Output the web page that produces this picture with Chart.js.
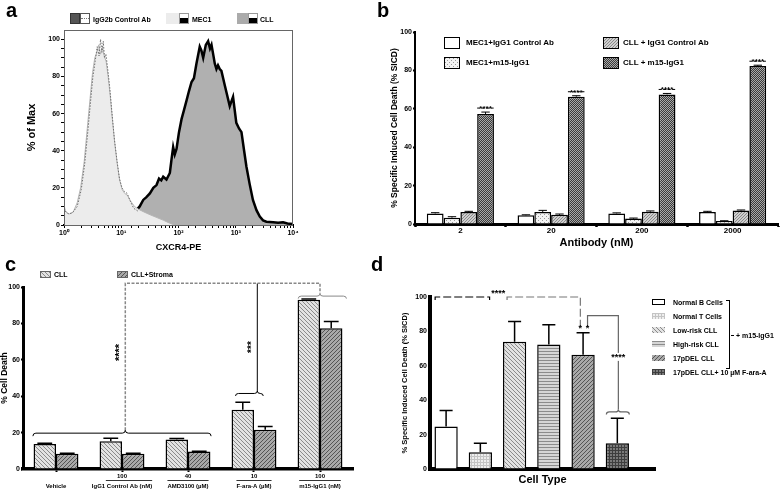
<!DOCTYPE html>
<html>
<head>
<meta charset="utf-8">
<title>m15-IgG1 CXCR4 figure</title>
<script src="https://cdn.jsdelivr.net/npm/chart.js@4.4.1/dist/chart.umd.min.js"></script>
<style>
  body { margin: 0; background: #fff; }
  #fig { position: relative; width: 780px; height: 489px; overflow: hidden; background: #fff;
         font-family: "Liberation Sans", Arial, sans-serif; font-weight: bold; color: #000; }
  #fig canvas { position: absolute; }
  .t { position: absolute; white-space: nowrap; line-height: 1; transform: translateY(-50%); }
  .letter { position: absolute; font-size: 20px; line-height: 1; }
  .sw { position: absolute; box-sizing: border-box; }
</style>
</head>
<body>
<div id="fig">
  <canvas id="chartA" width="300" height="260" style="left:0;top:0"></canvas>
  <canvas id="chartB" width="390" height="250" style="left:390px;top:0"></canvas>
  <canvas id="chartC" width="390" height="234" style="left:0;top:255px"></canvas>
  <canvas id="chartD" width="390" height="234" style="left:390px;top:255px"></canvas>

  <div class="letter" style="left:6px;top:0">a</div>
  <div class="letter" style="left:377px;top:0">b</div>
  <div class="letter" style="left:5px;top:254px">c</div>
  <div class="letter" style="left:371px;top:254px">d</div>

  <!-- legend a -->
  <div class="sw" style="left:70px;top:13px;width:10px;height:11px;background:#555;border:1px solid #333"></div>
  <div class="sw" style="left:80px;top:13px;width:10px;height:11px;background:#fff;border:1px solid #555">
    <div style="margin-top:4px;border-top:1px dotted #777"></div></div>
  <div class="t" style="left:93px;top:19px;font-size:7px">IgG2b Control Ab</div>
  <div class="sw" style="left:166px;top:13px;width:13px;height:11px;background:#ececec"></div>
  <div class="sw" style="left:179px;top:13px;width:10px;height:11px;background:#fff;border:1px solid #999">
    <div style="margin-top:4px;height:5px;background:#000"></div></div>
  <div class="t" style="left:192px;top:19px;font-size:7px">MEC1</div>
  <div class="sw" style="left:237px;top:13px;width:11px;height:11px;background:#ababab"></div>
  <div class="sw" style="left:248px;top:13px;width:10px;height:11px;background:#fff;border:1px solid #999">
    <div style="margin-top:4px;height:5px;background:#000"></div></div>
  <div class="t" style="left:260px;top:19px;font-size:7px">CLL</div>

  <!-- legend b -->
  <div class="sw" id="swB0" style="left:444px;top:37px;width:16px;height:12px;border:1.5px solid #000"></div>
  <div class="t" style="left:466px;top:43px;font-size:8px">MEC1+IgG1 Control Ab</div>
  <div class="sw" id="swB1" style="left:444px;top:57px;width:16px;height:12px;border:1.5px solid #000"></div>
  <div class="t" style="left:466px;top:63px;font-size:8px">MEC1+m15-IgG1</div>
  <div class="sw" id="swB2" style="left:603px;top:37px;width:16px;height:12px;border:1.5px solid #000"></div>
  <div class="t" style="left:623px;top:43px;font-size:8px">CLL + IgG1 Control Ab</div>
  <div class="sw" id="swB3" style="left:603px;top:57px;width:16px;height:12px;border:1.5px solid #000"></div>
  <div class="t" style="left:623px;top:63px;font-size:8px">CLL + m15-IgG1</div>

  <!-- legend c -->
  <div class="sw" id="swC0" style="left:40px;top:271px;width:11px;height:7px;border:1px solid #666"></div>
  <div class="t" style="left:54px;top:274px;font-size:7px">CLL</div>
  <div class="sw" id="swC1" style="left:117px;top:271px;width:11px;height:7px;border:1px solid #666"></div>
  <div class="t" style="left:131px;top:274px;font-size:7px">CLL+Stroma</div>

  <!-- legend d -->
  <div id="legD"></div>
  <div class="sw" style="left:726px;top:300px;width:4px;height:69px;border:1px solid #000;border-left:none"></div>
  <div class="sw" style="left:731px;top:335px;width:3px;height:1px;background:#000"></div>
  <div class="t" style="left:736px;top:335px;font-size:7px">+ m15-IgG1</div>
</div>
<script>
const FONT = '"Liberation Sans", Arial, sans-serif';

// ---- a: CXCR4-PE histograms (% of max) ----
const aCtrlX = [1.0, 1.08, 1.2, 1.4, 1.7, 2.0, 2.3, 2.6, 2.9, 3.2, 3.5, 3.8, 4.1, 4.35, 4.6, 4.85, 5.1, 5.4, 5.8, 6.3, 6.9, 7.6, 8.4, 9.3, 10.3, 11.4, 12.7, 14.3, 16.5, 19.5];
const aCtrlY = [9, 7, 6, 6.5, 10, 19, 33, 50, 66, 80, 88, 96, 91, 100, 93, 99, 90, 92, 84, 74, 60, 46, 35, 25, 20, 18, 17, 13, 9, 7.5];
const aMecX = [1.0, 1.05, 1.12, 1.25, 1.45, 1.7, 1.95, 2.25, 2.55, 2.85, 3.15, 3.45, 3.75, 4.05, 4.35, 4.7, 5.05, 5.45, 5.9, 6.4, 7.0, 7.7, 8.5, 9.4, 10.4, 11.5, 12.8, 14.5, 17, 20, 25, 32, 42, 55, 70, 85];
const aMecY = [11, 8, 6.5, 6, 7, 12, 20, 34, 52, 68, 82, 90, 93, 97, 92, 96, 91, 88, 80, 70, 57, 44, 33, 24, 19, 17, 16, 13, 10, 8.5, 7, 5.5, 4, 2.5, 1, 0];
const aCllX = [18.5, 21, 24.2, 27.5, 31.6, 36.3, 41.3, 45.7, 50, 54.1, 61.7, 70.6, 76, 80.7, 86, 92.3, 102, 113, 125, 138, 152, 169, 186, 206, 235, 251, 270, 300, 329, 355, 377, 403, 430, 460, 490, 525, 562, 646, 785, 897, 1023, 1140, 1259, 1400, 1535, 1750, 1995, 2300, 2630, 3000, 3428, 4500, 5500, 6699, 8000, 10000];
const aCllY = [8, 10, 13.5, 15, 17, 20, 21.5, 25, 24, 26, 24.5, 28, 36, 42, 38, 41, 50, 57, 62, 67, 72, 77, 79, 87, 96, 94, 90, 97, 99, 95, 97, 92, 87, 84, 86, 84, 83, 75, 64, 69, 55, 52, 50, 40, 31.5, 22, 13.5, 8, 4.5, 2.5, 1.8, 1.5, 1.2, 1.5, 0.8, 0.5];
const aXTickLabels = ['10⁰', '10¹', '10²', '10³', '10⁴'];
const aYTickLabels = [0, 20, 40, 60, 80, 100];

// ---- b: SICD by antibody dose ----
const bDoses = ['2', '20', '200', '2000'];
const bMecCtrl = [5.5, 4.5, 5.5, 6.2];
const bMecCtrlErr = [0.4, 0.3, 0.3, 0.4];
const bMecM15 = [3.3, 6.3, 2.8, 1.5];
const bMecM15Err = [0.5, 0.8, 0.3, 0.2];
const bCllCtrl = [6.2, 4.8, 6.4, 7.0];
const bCllCtrlErr = [0.4, 0.4, 0.4, 0.3];
const bCllM15 = [57.3, 66.3, 67.5, 82.3];
const bCllM15Err = [1.0, 0.5, 0.5, 0.4];

// ---- c: cell death with / without stroma ----
const cTreatments = [['', 'Vehicle'], ['100', 'IgG1 Control Ab (nM)'], ['40', 'AMD3100 (µM)'], ['10', 'F-ara-A (µM)'], ['100', 'm15-IgG1 (nM)']];
const cCll = [13.7, 15.3, 16.2, 32.6, 93.0];
const cCllErr = [0.4, 1.6, 0.5, 4.1, 0.4];
const cStroma = [8.4, 8.4, 9.6, 21.6, 77.3];
const cStromaErr = [0.3, 0.2, 0.2, 1.7, 3.8];

// ---- d: SICD by cell type ----
const dCellTypes = ['Normal B Cells', 'Normal T Cells', 'Low-risk CLL', 'High-risk CLL', '17pDEL CLL', '17pDEL CLL+ 10 µM F-ara-A'];
const dSicd = [24.7, 9.7, 74, 72.4, 66.4, 15];
const dSicdErr = [9.3, 5.3, 11.8, 11.5, 12.8, 14.5];

Chart.defaults.font.family = FONT;
Chart.defaults.font.weight = 'bold';
Chart.defaults.color = '#000';
Chart.defaults.animation = false;
Chart.defaults.responsive = false;
Chart.defaults.plugins.legend.display = false;
Chart.defaults.plugins.tooltip.enabled = false;

// small fill tiles, used as canvas patterns and as legend swatches
function tile(size, bg, fg, kind) {
    const c = document.createElement('canvas');
    c.width = c.height = size;
    const g = c.getContext('2d');
    g.fillStyle = bg;
    g.fillRect(0, 0, size, size);
    g.fillStyle = fg;
    g.strokeStyle = fg;
    g.lineWidth = 1;
    if (kind === 'fwd') {
        g.beginPath();
        g.moveTo(0, size); g.lineTo(size, 0);
        g.moveTo(-1, 1); g.lineTo(1, -1);
        g.moveTo(size - 1, size + 1); g.lineTo(size + 1, size - 1);
        g.stroke();
    } else if (kind === 'back') {
        g.beginPath();
        g.moveTo(0, 0); g.lineTo(size, size);
        g.moveTo(-1, size - 1); g.lineTo(1, size + 1);
        g.moveTo(size - 1, -1); g.lineTo(size + 1, 1);
        g.stroke();
    } else if (kind === 'dots') {
        g.fillRect(0, 0, 1, 1);
        g.fillRect(Math.floor(size / 2), Math.floor(size / 2), 1, 1);
    } else if (kind === 'hstripe') {
        g.fillRect(0, 0, size, 1);
    } else if (kind === 'grid') {
        g.fillRect(0, 0, size, 1);
        g.fillRect(0, 0, 1, size);
    } else if (kind === 'check') {
        g.fillRect(0, 0, 1, 1);
        g.fillRect(1, 1, 1, 1);
    }
    return c;
}
const tiles = {
    bDots: tile(4, '#f3f3f3', '#9a9a9a', 'dots'),
    bHatch: tile(3, '#cfcfcf', '#8a8a8a', 'fwd'),
    bDark: tile(2, '#3a3a3a', '#a8a8a8', 'check'),
    cCll: tile(4, '#e2e2e2', '#8a8a8a', 'back'),
    cStroma: tile(4, '#a9a9a9', '#555', 'fwd'),
    dT: tile(3, '#eeeeee', '#c4c4c4', 'grid'),
    dLow: tile(4, '#e2e2e2', '#8a8a8a', 'back'),
    dHigh: tile(3, '#d6d6d6', '#8c8c8c', 'hstripe'),
    d17p: tile(4, '#a9a9a9', '#555', 'fwd'),
    dFara: tile(3, '#7a7a7a', '#3e3e3e', 'grid')
};
const pat = name => document.createElement('canvas').getContext('2d').createPattern(tiles[name], 'repeat');
const swatch = name => 'url(' + tiles[name].toDataURL() + ')';

// legend swatches
document.getElementById('swB0').style.background = '#fff';
document.getElementById('swB1').style.background = swatch('bDots');
document.getElementById('swB2').style.background = swatch('bHatch');
document.getElementById('swB3').style.background = swatch('bDark');
document.getElementById('swC0').style.background = swatch('cCll');
document.getElementById('swC1').style.background = swatch('cStroma');

const dFills = ['#fff', pat('dT'), pat('dLow'), pat('dHigh'), pat('d17p'), pat('dFara')];
const dSwatches = ['#fff', swatch('dT'), swatch('dLow'), swatch('dHigh'), swatch('d17p'), swatch('dFara')];
const legD = document.getElementById('legD');
dCellTypes.forEach((name, i) => {
    const y = 302 + i * 14;
    const sw = document.createElement('div');
    sw.className = 'sw';
    sw.style.cssText = `left:652px;top:${y - 3}px;width:13px;height:6px;background:${dSwatches[i]};` +
        (i === 0 ? 'border:1.5px solid #000' : '');
    legD.appendChild(sw);
    const t = document.createElement('div');
    t.className = 't';
    t.style.cssText = `left:673px;top:${y}px;font-size:7px`;
    t.textContent = name;
    legD.appendChild(t);
});

// error bars (upper whisker) from dataset.errors
const errorBars = {
    id: 'errorBars',
    afterDatasetsDraw(chart, args, opts) {
        const ctx = chart.ctx;
        const yScale = chart.scales.y;
        chart.data.datasets.forEach((ds, di) => {
            if (!ds.errors) return;
            chart.getDatasetMeta(di).data.forEach((bar, i) => {
                const raw = ds.data[i];
                const v = typeof raw === 'object' ? raw.y : raw;
                const top = yScale.getPixelForValue(v + ds.errors[i]);
                const cap = opts.cap * bar.width;
                ctx.save();
                ctx.strokeStyle = '#000';
                ctx.lineWidth = opts.width;
                ctx.beginPath();
                ctx.moveTo(bar.x, bar.y);
                ctx.lineTo(bar.x, top);
                ctx.moveTo(bar.x - cap, top);
                ctx.lineTo(bar.x + cap, top);
                ctx.stroke();
                ctx.restore();
            });
        });
    }
};

function path(ctx, pts) {
    ctx.beginPath();
    pts.forEach((p, i) => i ? ctx.lineTo(p[0], p[1]) : ctx.moveTo(p[0], p[1]));
    ctx.stroke();
}
function brace(ctx, xa, xb, xc, yy, dip) {
    ctx.beginPath();
    ctx.moveTo(xa, yy + dip);
    ctx.quadraticCurveTo(xa, yy, xa + 3, yy);
    ctx.lineTo(xc - 3, yy);
    ctx.quadraticCurveTo(xc, yy, xc, yy - dip);
    ctx.quadraticCurveTo(xc, yy, xc + 3, yy);
    ctx.lineTo(xb - 3, yy);
    ctx.quadraticCurveTo(xb, yy, xb, yy + dip);
    ctx.stroke();
}
function vText(ctx, s, x, y, size) {
    ctx.save();
    ctx.translate(x, y);
    ctx.rotate(-Math.PI / 2);
    ctx.font = `bold ${size}px ${FONT}`;
    ctx.textAlign = 'center';
    ctx.textBaseline = 'middle';
    ctx.fillText(s, 0, 0);
    ctx.restore();
}

// ---------- a ----------
const frame = {
    id: 'frame',
    afterDraw(chart) {
        const { ctx, chartArea: a } = chart;
        ctx.save();
        ctx.strokeStyle = '#666';
        ctx.lineWidth = 1;
        ctx.strokeRect(a.left + 0.5, a.top + 0.5, a.right - a.left - 1, a.bottom - a.top);
        ctx.restore();
    }
};
const toPts = (xs, ys) => xs.map((x, i) => ({ x: x, y: ys[i] }));
new Chart(document.getElementById('chartA'), {
    type: 'scatter',
    data: {
        datasets: [
            { label: 'IgG2b Control Ab', data: toPts(aCtrlX, aCtrlY), showLine: true, fill: false,
              borderColor: '#6f6f6f', borderWidth: 1, borderDash: [1.5, 1.5], pointRadius: 0, order: 0 },
            { label: 'MEC1', data: toPts(aMecX, aMecY), showLine: true, fill: 'origin',
              backgroundColor: '#ececec', borderColor: '#b5b5b5', borderWidth: 1, pointRadius: 0, order: 1 },
            { label: 'CLL', data: toPts(aCllX, aCllY), showLine: true, fill: 'origin',
              backgroundColor: '#b0b0b0', borderColor: '#000', borderWidth: 2.5, pointRadius: 0, order: 2 }
        ]
    },
    options: {
        layout: { padding: { left: 0, right: 7, top: 30, bottom: 0 } },
        scales: {
            x: {
                type: 'logarithmic', min: 1, max: 10000,
                ticks: {
                    autoSkip: false, maxRotation: 0, padding: 1, font: { size: 7 },
                    callback: v => {
                        const e = Math.round(Math.log10(v));
                        return Math.abs(v - Math.pow(10, e)) < 1e-6 ? aXTickLabels[e] : '';
                    }
                },
                grid: { drawOnChartArea: false, tickLength: 3, tickColor: '#000' },
                border: { color: '#000', width: 2 },
                title: { display: true, text: 'CXCR4-PE', font: { size: 9 }, padding: { top: 0, bottom: 6.6 } },
                afterFit(s) { s.height = 35; }
            },
            y: {
                min: 0, max: 105,
                afterBuildTicks(s) { s.ticks = s.ticks.filter(t => t.value <= 100); },
                ticks: { stepSize: 5, autoSkip: false, padding: 1, font: { size: 7 },
                         callback: v => aYTickLabels.includes(v) ? v : '' },
                grid: { drawOnChartArea: false, tickLength: 3, tickColor: '#000' },
                border: { color: '#666', width: 1 },
                title: { display: true, text: '% of Max', font: { size: 11 }, padding: { top: 25, bottom: 0 } },
                afterFit(s) { s.width = 64; }
            }
        }
    },
    plugins: [frame]
});

// ---------- b ----------
const bStars = {
    id: 'bStars',
    afterDatasetsDraw(chart) {
        const ctx = chart.ctx;
        const y = chart.scales.y;
        chart.getDatasetMeta(3).data.forEach((bar, i) => {
            const top = y.getPixelForValue(bCllM15[i] + bCllM15Err[i]);
            ctx.save();
            ctx.strokeStyle = '#000';
            ctx.lineWidth = 1;
            ctx.setLineDash([3, 1.5]);
            path(ctx, [[bar.x - bar.width / 2, top - 4], [bar.x + bar.width / 2, top - 4]]);
            ctx.font = `bold 8px ${FONT}`;
            ctx.textAlign = 'center';
            ctx.textBaseline = 'alphabetic';
            ctx.fillText('****', bar.x, top - 1);
            ctx.restore();
        });
    }
};
function yAxis(width, title, titleSize, titlePad, border) {
    return {
        min: 0, max: 100,
        ticks: { stepSize: 20, font: { size: 7 }, padding: 1 },
        grid: { drawOnChartArea: false, tickLength: 2, tickWidth: 2, tickColor: '#000' },
        border: { color: '#000', width: border },
        title: { display: true, text: title, font: { size: titleSize }, padding: { top: titlePad, bottom: 0 } },
        afterFit(s) { s.width = width; }
    };
}
new Chart(document.getElementById('chartB'), {
    type: 'bar',
    data: {
        labels: bDoses,
        datasets: [
            { label: 'MEC1+IgG1 Control Ab', data: bMecCtrl, errors: bMecCtrlErr, backgroundColor: '#fff' },
            { label: 'MEC1+m15-IgG1', data: bMecM15, errors: bMecM15Err, backgroundColor: pat('bDots') },
            { label: 'CLL + IgG1 Control Ab', data: bCllCtrl, errors: bCllCtrlErr, backgroundColor: pat('bHatch') },
            { label: 'CLL + m15-IgG1', data: bCllM15, errors: bCllM15Err, backgroundColor: pat('bDark') }
        ]
    },
    options: {
        layout: { padding: { left: 0, right: 2, top: 32, bottom: 0 } },
        datasets: { bar: { categoryPercentage: 0.74, barPercentage: 1, borderColor: '#000', borderWidth: 1.5 } },
        scales: {
            x: {
                ticks: { font: { size: 8, lineHeight: 1 }, padding: 0 },
                grid: { offset: true, drawOnChartArea: false, tickLength: 3, tickWidth: 2.5, tickColor: '#000' },
                border: { color: '#000', width: 3 },
                title: { display: true, text: 'Antibody (nM)', font: { size: 11 }, padding: { top: 0, bottom: 0.5 } },
                afterFit(s) { s.height = 26; }
            },
            y: yAxis(25, '% Specific Induced Cell Death (% SICD)', 8.5, 0, 2)
        },
        plugins: { errorBars: { cap: 0.25, width: 1 } }
    },
    plugins: [errorBars, bStars]
});

// ---------- c ----------
const cMarks = {
    id: 'cMarks',
    afterDraw(chart) {
        const { ctx, scales: { x, y } } = chart;
        const X = v => x.getPixelForValue(v), Y = v => y.getPixelForValue(v);
        ctx.save();
        ctx.lineWidth = 1;
        ctx.strokeStyle = '#000';
        brace(ctx, X(-0.35), X(2.35), X(1.05), Y(19.7), 3);
        brace(ctx, X(2.72), X(3.14), X(3.05), Y(41.5), 2.5);
        path(ctx, [[X(3.05), Y(41.5) - 2.5], [X(3.05), Y(102)]]);
        ctx.strokeStyle = '#888';
        brace(ctx, X(3.67), X(4.4), X(4.0), Y(95), 2.5);
        ctx.lineWidth = 1.5;
        ctx.setLineDash([3, 1.5]);
        path(ctx, [[X(1.05), Y(19.7) - 3], [X(1.05), Y(102)], [X(4.0), Y(102)], [X(4.0), Y(95) - 2.5]]);
        ctx.setLineDash([]);
        ctx.fillStyle = '#000';
        vText(ctx, '****', X(0.97), Y(64), 11);
        vText(ctx, '***', X(2.97), Y(67), 10);
        // rule between dose and agent name
        ctx.lineWidth = 0.8;
        ctx.strokeStyle = '#000';
        ctx.font = `bold 6px ${FONT}`;
        cTreatments.forEach((lab, i) => {
            if (!lab[0]) return;
            const w = ctx.measureText(lab[1]).width;
            const yy = chart.chartArea.bottom + 11.5;
            path(ctx, [[X(i) - w / 2 + (i === 1 ? 14 : 0), yy], [X(i) + w / 2, yy]]);
        });
        ctx.restore();
    }
};
new Chart(document.getElementById('chartC'), {
    type: 'bar',
    data: {
        labels: cTreatments,
        datasets: [
            { label: 'CLL', data: cCll, errors: cCllErr, backgroundColor: pat('cCll') },
            { label: 'CLL+Stroma', data: cStroma, errors: cStromaErr, backgroundColor: pat('cStroma') }
        ]
    },
    options: {
        layout: { padding: { left: 0, right: 37, top: 32, bottom: 0 } },
        datasets: { bar: { categoryPercentage: 0.68, barPercentage: 1, borderColor: '#000', borderWidth: 1.5 } },
        scales: {
            x: {
                ticks: { font: { size: 6, lineHeight: 1.6 }, padding: 0, maxRotation: 0, autoSkip: false },
                grid: { offset: false, drawOnChartArea: false, tickLength: 3, tickWidth: 2, tickColor: '#000' },
                border: { color: '#000', width: 3.5 },
                afterFit(s) { s.height = 20; }
            },
            y: yAxis(23, '% Cell Death', 8.5, 0, 3)
        },
        plugins: { errorBars: { cap: 0.33, width: 1.5 } }
    },
    plugins: [errorBars, cMarks]
});

// ---------- d ----------
const dMarks = {
    id: 'dMarks',
    afterDraw(chart) {
        const { ctx, scales: { x, y } } = chart;
        const X = v => x.getPixelForValue(v), Y = v => y.getPixelForValue(v);
        ctx.save();
        ctx.lineWidth = 1.2;
        ctx.strokeStyle = '#000';
        ctx.setLineDash([8, 3]);
        path(ctx, [[X(-0.32), Y(98.3)], [X(-0.32), Y(100)], [X(1.27), Y(100)], [X(1.27), Y(98.3)]]);
        ctx.strokeStyle = '#777';
        path(ctx, [[X(1.78), Y(98.3)], [X(1.78), Y(100)], [X(3.92), Y(100)], [X(3.92), Y(83)]]);
        ctx.setLineDash([]);
        ctx.strokeStyle = '#666';
        path(ctx, [[X(4.13), Y(83)], [X(4.13), Y(89.2)], [X(5.03), Y(89.2)], [X(5.03), Y(33.2) - 2.5]]);
        brace(ctx, X(4.68), X(5.35), X(5.03), Y(33.2), 2.5);
        ctx.fillStyle = '#000';
        ctx.font = `bold 9px ${FONT}`;
        ctx.textAlign = 'center';
        ctx.textBaseline = 'middle';
        ctx.fillText('****', X(1.52), Y(101.8));
        ctx.fillText('*', X(3.92), Y(81.5));
        ctx.fillText('*', X(4.13), Y(81.5));
        const w = ctx.measureText('****').width;
        ctx.fillStyle = '#fff';
        ctx.fillRect(X(5.03) - w / 2 - 1, Y(64.6) - 5, w + 2, 8);
        ctx.fillStyle = '#000';
        ctx.fillText('****', X(5.03), Y(64.6));
        ctx.restore();
    }
};
new Chart(document.getElementById('chartD'), {
    type: 'bar',
    data: {
        datasets: [{
            label: 'SICD',
            data: dSicd.map((v, i) => ({ x: i, y: v })),
            errors: dSicdErr,
            backgroundColor: dFills,
            borderColor: '#000',
            borderWidth: 1.5,
            categoryPercentage: 0.68,
            barPercentage: 1
        }]
    },
    options: {
        layout: { padding: { left: 0, right: 125, top: 42, bottom: 0 } },
        scales: {
            x: {
                type: 'linear', min: -0.47, max: 6.1, offset: false,
                ticks: { display: false },
                grid: { display: false },
                border: { color: '#000', width: 4 },
                title: { display: true, text: 'Cell Type', font: { size: 11 }, padding: { top: 0, bottom: 2.4 } },
                afterFit(s) { s.height = 20; }
            },
            y: yAxis(40, '% Specific Induced Cell Death (% SICD)', 7.5, 10.5, 4)
        },
        plugins: { errorBars: { cap: 0.28, width: 1.5 } }
    },
    plugins: [errorBars, dMarks]
});
</script>
</body>
</html>
